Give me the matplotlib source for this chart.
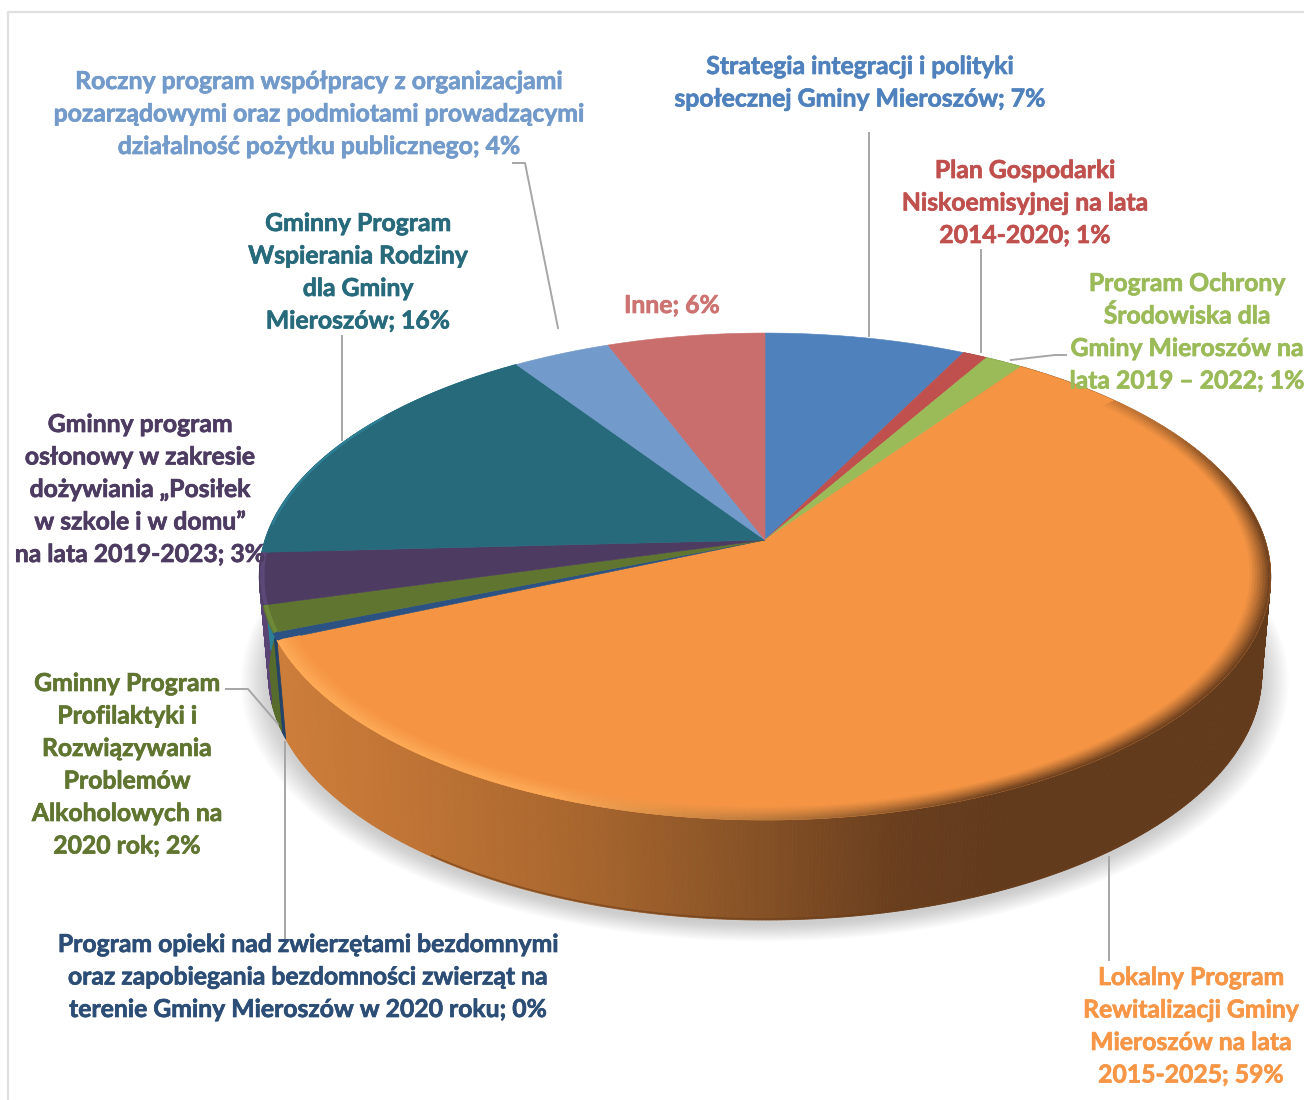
import numpy as np
import matplotlib
matplotlib.use('Agg')
import matplotlib.pyplot as plt
import matplotlib.patheffects as pe
from matplotlib.collections import PolyCollection

plt.rcParams['font.family'] = ['Lato', 'DejaVu Sans']

# slices clockwise from the top of the pie, share in percent
categories = [
    'Strategia integracji i polityki\nspołecznej Gminy Mieroszów; 7%',
    'Plan Gospodarki\nNiskoemisyjnej na lata\n2014-2020; 1%',
    'Program Ochrony\nŚrodowiska dla\nGminy Mieroszów na\nlata 2019 – 2022; 1%',
    'Lokalny Program\nRewitalizacji Gminy\nMieroszów na lata\n2015-2025; 59%',
    'Program opieki nad zwierzętami bezdomnymi\noraz zapobiegania bezdomności zwierząt na\nterenie Gminy Mieroszów w 2020 roku; 0%',
    'Gminny Program\nProfilaktyki i\nRozwiązywania\nProblemów\nAlkoholowych na\n2020 rok; 2%',
    'Gminny program\nosłonowy w zakresie\ndożywiania „Posiłek\nw szkole i w domu”\nna lata 2019-2023; 3%',
    'Gminny Program\nWspierania Rodziny\ndla Gminy\nMieroszów; 16%',
    'Roczny program współpracy z organizacjami\npozarządowymi oraz podmiotami prowadzącymi\ndziałalność pożytku publicznego; 4%',
    'Inne; 6%',
]
values = [7.4, 0.9, 1.4, 58.5, 0.49, 1.75, 3.4, 16.3, 3.6, 5.8]
face_colors = ['#4F81BD', '#C0504D', '#9BBB59', '#F59544', '#2C5283',
               '#5F7530', '#4D3B62', '#276A7C', '#729ACA', '#C96E6C']
text_colors = ['#4F81BD', '#C0504D', '#9BBB59', '#F79646', '#2C4D75',
               '#5F7530', '#4D3B62', '#276A7C', '#729ACA', '#CD7371']
wall_colors = ['#3A5F8C', '#8E3B39', '#728A42', '#C87F3C', '#234268',
               '#566B2C', '#5A4474', '#2D7F94', '#55729A', '#955250']

# label centre x and y of first line
label_x = [860, 1025, 1187, 1191, 308, 127, 140, 358, 319, 672]
label_y = [66, 170, 283, 977, 944, 683, 424, 223, 81, 305]
line_step = 32.5

# leader lines
leaders = [
    [(869, 133), (869, 336)],
    [(981, 250), (981, 352)],
    [(1011, 360), (1055, 355), (1066, 355)],
    [(1109, 857), (1109, 960)],
    [(285, 742), (285, 938)],
    [(226, 689), (248, 689), (278, 724)],
    [(342, 336), (342, 440)],
    [(513, 163), (525, 163), (558, 328)],
]

# perspective of the disc
cx, cy = 765, 540
A, B, k = 500, 238, 0.15


def top_pt(t, r=1.0):
    u, v = r * np.sin(t), r * np.cos(t)
    w = 1 + k * v
    return cx + A * u / w, cy - B * v / w


def bottom_pt(t):
    u, v = np.sin(t), np.cos(t)
    w = 1 + k * v
    return cx + 0.982 * A * u / w, cy - B * v / w + 97.5 - 2.5 * v


def mix(c1, c2, w):
    return tuple(np.array(c1) * (1 - w) + np.array(c2) * w)


def wall_shade(x):
    # left to right fade of the orange side
    xs = [280, 420, 600, 750, 900, 1000, 1280]
    rs = [205, 190, 165, 135, 105, 98, 98]
    gs = [125, 115, 100, 82, 62, 58, 58]
    bs = [58, 52, 45, 38, 30, 28, 28]
    return (np.interp(x, xs, rs) / 255, np.interp(x, xs, gs) / 255, np.interp(x, xs, bs) / 255)


def rim_shade(x):
    light = (1.0, 0.68, 0.35)
    dark = (0.36, 0.21, 0.10)
    return mix(light, dark, np.clip((x - 550) / 450, 0, 1))


fig = plt.figure(figsize=(13.04, 11), dpi=100)
ax = fig.add_axes([0, 0, 1, 1])
ax.set_xlim(0, 1304)
ax.set_ylim(1100, 0)
ax.axis('off')

# frame of the chart area
ax.plot([8, 8, 1304], [1100, 12, 12], color='#E0E0E0', lw=1.6, zorder=1)

# angles from values
fracs = np.array(values) / sum(values)
edges = np.concatenate([[0], np.cumsum(fracs)]) * 2 * np.pi

# soft shadow under the pie
ts = np.linspace(0, 2 * np.pi, 300)
bx, by = bottom_pt(ts)
for grow in np.linspace(1.055, 1.0, 18):
    sx = 770 + (bx - 770) * grow
    sy = 600 + (by - 600) * grow + 4
    ax.fill(sx, sy, color='#808080', alpha=0.025, lw=0, zorder=2)

# side walls
for i in range(len(values)):
    t0, t1 = edges[i], edges[i + 1]
    if t1 < np.radians(30) or t0 > np.radians(275):
        continue
    t = np.linspace(t0, t1, max(3, int((t1 - t0) * 150)))
    polys, cols = [], []
    for a, b in zip(t[:-1], t[1:]):
        x0, y0 = top_pt(a)
        x1, y1 = top_pt(b)
        x2, y2 = bottom_pt(b)
        x3, y3 = bottom_pt(a)
        polys.append([(x0, y0), (x1, y1), (x2, y2), (x3, y3)])
        cols.append(wall_shade((x0 + x1) / 2) if i == 3 else wall_colors[i])
    ax.add_collection(PolyCollection(polys, facecolors=cols, edgecolors=cols,
                                     linewidths=0.6, zorder=3))

# darker lip on the bottom edge of the orange side
t = np.linspace(edges[3] + np.radians(60), edges[4] - np.radians(30), 300)
bx, by = bottom_pt(t)
ax.plot(bx, by - 1, color='#6B3F1C', lw=1.2, alpha=0.6, zorder=3.5)

# top faces
for i in range(len(values)):
    t = np.linspace(edges[i], edges[i + 1], max(3, int((edges[i + 1] - edges[i]) * 150)))
    px, py = top_pt(t)
    ax.fill(np.r_[cx, px], np.r_[cy, py], facecolor=face_colors[i],
            edgecolor=face_colors[i], lw=0.4, zorder=4)

# bevel along the orange rim
base = matplotlib.colors.to_rgb(face_colors[3])
t = np.linspace(edges[3] + np.radians(15), edges[4], 260)
rs = np.linspace(0.955, 1.0, 10)
polys, cols = [], []
for r0, r1 in zip(rs[:-1], rs[1:]):
    for a, b in zip(t[:-1], t[1:]):
        x0, y0 = top_pt(a, r0)
        x1, y1 = top_pt(b, r0)
        x2, y2 = top_pt(b, r1)
        x3, y3 = top_pt(a, r1)
        # rim fades in towards the edge and the front
        fade = np.clip((a - edges[3]) / np.radians(45), 0, 1)
        w = ((r0 - 0.955) / 0.045) ** 1.2 * fade
        c = mix(base, rim_shade((x0 + x1) / 2), w)
        polys.append([(x0, y0), (x1, y1), (x2, y2), (x3, y3)])
        cols.append(c)
ax.add_collection(PolyCollection(polys, facecolors=cols, edgecolors=cols,
                                 linewidths=0.3, zorder=5))

# lighter edge on the small left slices
for i, col in [(4, '#2C5283'), (5, '#6E8A38'), (6, '#5C4878')]:
    t = np.linspace(edges[i], edges[i + 1], 40)
    px, py = top_pt(t, 0.994)
    ax.plot(px, py, color=col, lw=3, zorder=5, solid_capstyle='butt')
t = np.linspace(edges[8] - np.radians(22), edges[8] - np.radians(52), 40)
px, py = top_pt(t, 0.997)
ax.plot(px, py, color='#2F8096', lw=1.5, zorder=5)

# leader lines
for pts in leaders:
    xs, ys = zip(*pts)
    ax.plot(xs, ys, color='#A6A6A6', lw=1.4, zorder=6)

# labels
for name, x, y, col in zip(categories, label_x, label_y, text_colors):
    for j, line in enumerate(name.split('\n')):
        ax.text(x, y + j * line_step + 8, line, color=col, ha='center', va='baseline',
                fontsize=17.8, fontweight='bold', zorder=7,
                path_effects=[pe.withStroke(linewidth=0.5, foreground=col)])

fig.savefig('out.png', dpi=100)
